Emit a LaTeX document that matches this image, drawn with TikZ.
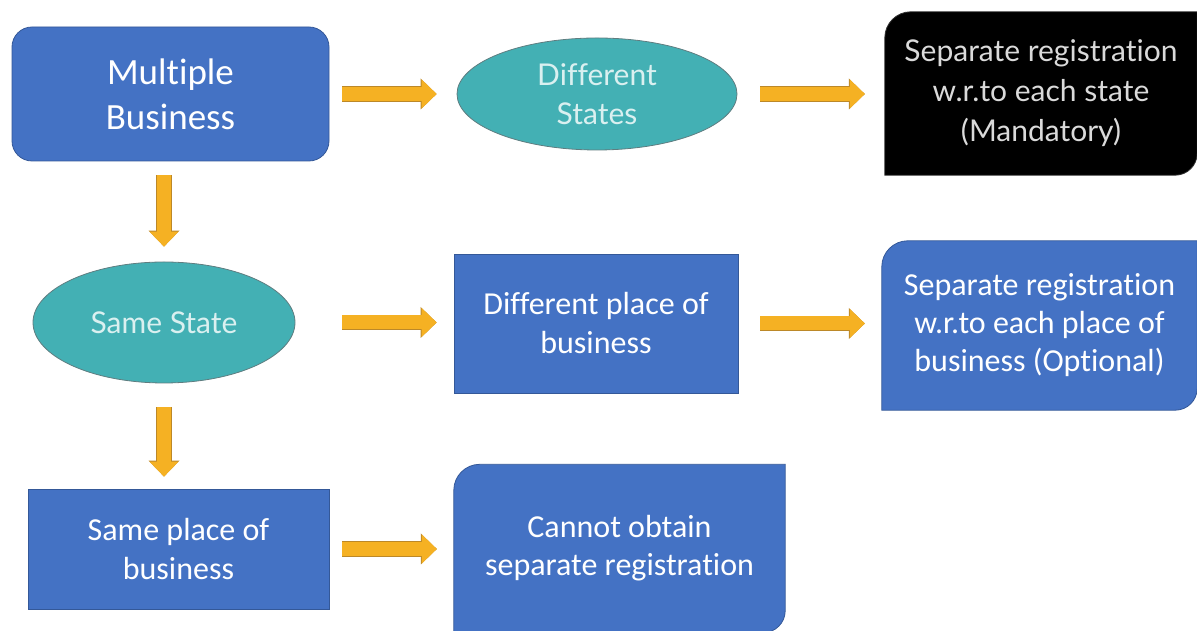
\documentclass[tikz,border=0pt]{standalone}
\usepackage{fontspec}
\setmainfont[Ligatures=NoCommon]{Carlito}
\newfontfamily\humanist[Ligatures=NoCommon]{Lato}
\usetikzlibrary{shapes.geometric,arrows.meta,calc,backgrounds}

\definecolor{boxblue}{RGB}{68,114,196}
\definecolor{boxedge}{RGB}{52,88,152}
\definecolor{tealfill}{RGB}{67,176,180}
\definecolor{tealedge}{RGB}{95,125,128}
\definecolor{tealtext}{RGB}{218,240,240}
\definecolor{greytext}{RGB}{218,218,218}
\definecolor{arroworange}{RGB}{245,177,35}
\definecolor{arrowedge}{RGB}{188,136,40}

% box with rounded top-left and bottom-right corners, drawn behind node #1
% #2 = top-left radius, #3 = bottom-right radius, #4 = path style
\newcommand\diagpanel[4]{%
  \path[#4] (#1.north east) -- ($(#1.south east)+(0,#3)$)
    .. controls ($(#1.south east)+(0,0.448*#3)$) and ($(#1.south east)+(-0.448*#3,0)$) .. ($(#1.south east)+(-#3,0)$)
    -- (#1.south west) -- ($(#1.north west)+(0,-#2)$)
    .. controls ($(#1.north west)+(0,-0.448*#2)$) and ($(#1.north west)+(0.448*#2,0)$) .. ($(#1.north west)+(#2,0)$)
    -- cycle;}

\tikzset{
  bluebox/.style={rectangle, fill=boxblue, draw=boxedge, line width=0.8pt,
    text=white, align=center, inner sep=0pt, font=\fontsize{32}{39}\selectfont},
  panel/.style={rectangle, inner sep=0pt, align=center, text=white,
    font=\fontsize{32}{38}\selectfont},
  oval/.style={ellipse, fill=tealfill, draw=tealedge, line width=0.8pt,
    text=tealtext, align=center, inner sep=0pt, font=\humanist\fontsize{30}{39}\selectfont},
  bluefill/.style={fill=boxblue, draw=boxedge, line width=0.8pt},
  blackfill/.style={fill=black, draw=black!80, line width=0.8pt},
  flow/.style={draw=arroworange, line width=14pt,
    -{Triangle[length=15pt,width=29pt,line width=0pt]},
    preaction={draw=arrowedge, line width=15.6pt,
      -{Triangle[length=16pt,width=31pt,line width=0pt]}}}
}

\begin{document}
\begin{tikzpicture}[x=1pt,y=1pt]
\useasboundingbox (0,0) rectangle (1197,631);

% top row
\node[bluebox, rounded corners=20pt, minimum width=317pt, minimum height=134pt,
      font=\fontsize{37}{45}\selectfont] (mb) at (170.5,537) {Multiple\\Business};
\node[oval, minimum width=280pt, minimum height=112pt] (ds) at (597,537) {Different\\States};
\node[panel, minimum width=312pt, minimum height=163pt, text=greytext,
      font=\humanist\fontsize{30}{40}\selectfont] (sepstate) at (1041,537.5)
      {Separate registration\\w.r.to each state\\(Mandatory)};

% middle row
\node[oval, minimum width=262pt, minimum height=121pt] (ss) at (164,308.5) {Same State};
\node[bluebox, minimum width=284pt, minimum height=139pt] (dpb) at (596,307.5)
      {Different place of\\business};
\node[panel, minimum width=315pt, minimum height=169pt] (sepplace) at (1039.5,305.5)
      {Separate registration\\w.r.to each place of\\business (Optional)};

% bottom row
\node[bluebox, minimum width=301pt, minimum height=120pt] (spb) at (178.5,82)
      {Same place of\\business};
\node[panel, minimum width=331pt, minimum height=168pt] (cno) at (619.5,82.5)
      {Cannot obtain\\separate registration};

\begin{scope}[on background layer]
  \diagpanel{sepstate}{26}{22}{blackfill}
  \diagpanel{sepplace}{26}{22}{bluefill}
  \diagpanel{cno}{26}{22}{bluefill}
\end{scope}

% connectors
\draw[flow, shorten <=13pt, shorten >=20pt] (mb.east) -- (ds.west);
\draw[flow, shorten <=23pt, shorten >=20pt] (ds.east) -- (ds.east -| sepstate.west);
\draw[flow, shorten <=14pt, shorten >=15pt] (ss.north |- mb.south) -- (ss.north);
\draw[flow, shorten <=47pt, shorten >=17pt] (ss.east) -- (ss.east -| dpb.west);
\draw[flow, shorten <=22pt, shorten >=17pt] (dpb.east) -- (dpb.east -| sepplace.west);
\draw[flow, shorten <=24pt, shorten >=12pt] (ss.south) -- (ss.south |- spb.north);
\draw[flow, shorten <=13pt, shorten >=17pt] (spb.east) -- (spb.east -| cno.west);
\end{tikzpicture}
\end{document}
